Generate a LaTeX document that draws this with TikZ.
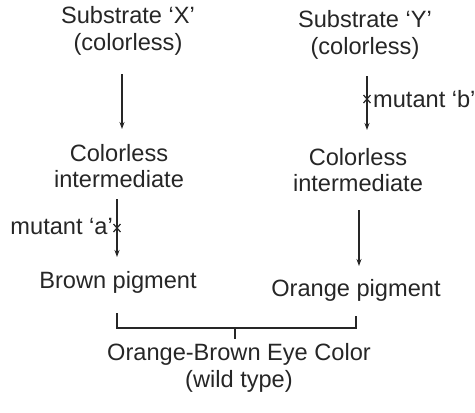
\documentclass[tikz,border=0pt]{standalone}
\usepackage{fontspec}
\setmainfont{Liberation Sans}
\usetikzlibrary{arrows.meta}
\begin{document}
\begin{tikzpicture}[x=1pt,y=-1pt,
  lbl/.style={inner sep=0pt,font=\fontsize{23.6}{26.5}\selectfont,text=black!85,align=center},
  arr/.style={draw=black!85,line width=1.1pt,-{Stealth[length=7pt,width=5pt]}},
  brk/.style={draw=black!85,line width=1.1pt},
  crs/.style={draw=black!85,line width=1.2pt}]
\useasboundingbox (0,0) rectangle (475,413);
\node[lbl] (sx) at (128,31) {Substrate `X'\\(colorless)};
\node[lbl] (ix) at (119,166) {Colorless\\intermediate};
\node[lbl] (bp) at (118,282) {Brown pigment};
\node[lbl] (sy) at (365,35) {Substrate `Y'\\(colorless)};
\node[lbl] (iy) at (358,170) {Colorless\\intermediate};
\node[lbl] (op) at (356,290) {Orange pigment};
\node[lbl] (wt) at (239,368) {Orange-Brown Eye Color\\(wild type)};
\coordinate (a1) at (122,74);
\coordinate (a2) at (122,129);
\draw[arr] (a1) -- (a2);
\coordinate (b1) at (117,199);
\coordinate (b2) at (117,257);
\draw[arr] (b1) -- (b2);
\coordinate (c1) at (367,76);
\coordinate (c2) at (367,130);
\draw[arr] (c1) -- (c2);
\coordinate (d1) at (359,210);
\coordinate (d2) at (359,266);
\draw[arr] (d1) -- (d2);
% cross marks
\coordinate (xa) at (117,228);
\draw[crs] ([xshift=-3.5pt,yshift=-4pt]xa) -- ([xshift=3.5pt,yshift=4pt]xa)
  ([xshift=3.5pt,yshift=-4pt]xa) -- ([xshift=-3.5pt,yshift=4pt]xa);
\coordinate (xb) at (367,99);
\draw[crs] ([xshift=-3.5pt,yshift=-4pt]xb) -- ([xshift=3.5pt,yshift=4pt]xb)
  ([xshift=3.5pt,yshift=-4pt]xb) -- ([xshift=-3.5pt,yshift=4pt]xb);
\node[lbl,anchor=east] (ma) at (113,226) {mutant `a'};
\node[lbl,anchor=west] (mb) at (373,99) {mutant `b'};
% bracket
\coordinate (k1) at (117,313);
\coordinate (k2) at (117,328);
\coordinate (k3) at (356,328);
\coordinate (k4) at (356,316);
\coordinate (t1) at (235,328);
\coordinate (t2) at (235,339);
\draw[brk] (k1) -- (k2) -- (k3) -- (k4);
\draw[brk] (t1) -- (t2);
\end{tikzpicture}
\end{document}
